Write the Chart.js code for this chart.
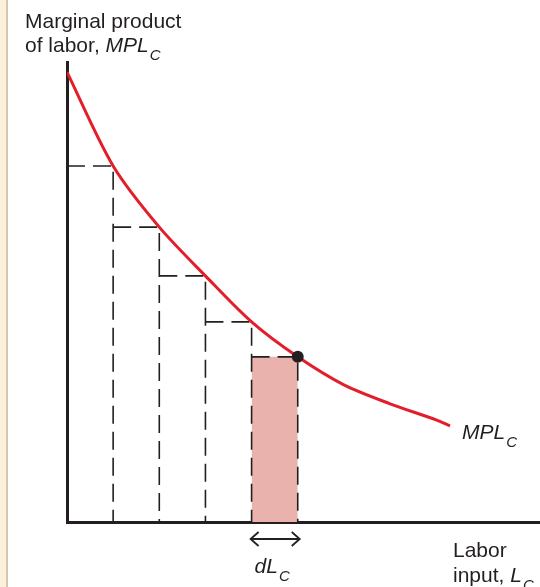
<!DOCTYPE html>
<html>
<head>
<meta charset="utf-8">
<script src="https://cdn.jsdelivr.net/npm/chart.js@4/dist/chart.umd.min.js"></script>
<style>
    body {
        margin: 0;
        background: #fff;
    }
    .page {
        width: 540px;
        height: 587px;
        position: relative;
        background: linear-gradient(to right, #fdf0da 0, #fdf0da 6px, #d6c6ab 6px, #d6c6ab 8px, #fff 8px);
    }
    canvas {
        position: absolute;
        left: 0;
        top: 0;
    }
</style>
</head>
<body>
<div class="page">
    <canvas id="mpl-chart" width="540" height="587"></canvas>
</div>
<script>
// labor input (units of dL) and marginal product
const curveLabor = [0, 1, 2, 3, 4, 5, 6, 7, 8, 8.3];
const curveMPL = [9.78, 7.74, 6.41, 5.35, 4.35, 3.59, 2.98, 2.57, 2.22, 2.09];

// steps under the curve, one per unit of labor
const stepEnds = [1, 2, 3, 4, 5];
// highlighted slice dL
const sliceStart = 4;
const sliceEnd = 5;

const xMax = 10.25;
const yMax = 10;

const ink = '#231f20';
const red = '#e31e2a';
const font = '"Liberation Sans", Arial, sans-serif';

function mplAt(l) {
    return curveMPL[curveLabor.indexOf(l)];
}

const curveData = curveLabor.map((l, i) => ({ x: l, y: curveMPL[i] }));

const dashData = [];
stepEnds.forEach(end => {
    const h = mplAt(end);
    dashData.push({ x: end - 1, y: h }, { x: end, y: h }, { x: end, y: 0 }, { x: end, y: null });
});

const sliceData = [
    { x: sliceStart, y: mplAt(sliceEnd) },
    { x: sliceEnd, y: mplAt(sliceEnd) }
];

function drawSubText(ctx, x, y, main, sub, style) {
    ctx.font = style + ' 21px ' + font;
    ctx.fillText(main, x, y);
    const w = ctx.measureText(main).width;
    ctx.font = style + ' 15px ' + font;
    ctx.fillText(sub, x + w + 1, y + 8);
}

const labelsPlugin = {
    id: 'labels',
    afterDraw(chart) {
        const ctx = chart.ctx;
        const xs = chart.scales.x;
        const top = chart.chartArea.bottom;
        ctx.save();
        ctx.fillStyle = ink;
        ctx.textBaseline = 'alphabetic';
        ctx.textAlign = 'left';

        // y axis title
        ctx.font = '21px ' + font;
        ctx.fillText('Marginal product', 25, 28);
        ctx.fillText('of labor, ', 25, 52);
        const w = ctx.measureText('of labor, ').width;
        drawSubText(ctx, 25 + w, 52, 'MPL', 'C', 'italic');

        // curve label
        drawSubText(ctx, 462, 439, 'MPL', 'C', 'italic');

        // x axis title
        ctx.font = '21px ' + font;
        ctx.fillText('Labor', 453, 557);
        ctx.fillText('input, ', 453, 582);
        const w2 = ctx.measureText('input, ').width;
        drawSubText(ctx, 453 + w2, 582, 'L', 'C', 'italic');

        // double arrow for dL
        const x1 = xs.getPixelForValue(sliceStart) - 1;
        const x2 = xs.getPixelForValue(sliceEnd) + 2;
        const ay = top + 17;
        ctx.strokeStyle = ink;
        ctx.lineWidth = 1.8;
        ctx.beginPath();
        ctx.moveTo(x1, ay);
        ctx.lineTo(x2, ay);
        ctx.moveTo(x1 + 8, ay - 7);
        ctx.lineTo(x1, ay);
        ctx.lineTo(x1 + 8, ay + 7);
        ctx.moveTo(x2 - 8, ay - 7);
        ctx.lineTo(x2, ay);
        ctx.lineTo(x2 - 8, ay + 7);
        ctx.stroke();

        drawSubText(ctx, x1 + 4, top + 51, 'dL', 'C', 'italic');
        ctx.restore();
    }
};

const ctx = document.getElementById('mpl-chart').getContext('2d');
new Chart(ctx, {
    type: 'scatter',
    data: {
        datasets: [
            {
                data: [{ x: sliceEnd, y: mplAt(sliceEnd) }],
                pointRadius: 6,
                pointBackgroundColor: ink,
                pointBorderWidth: 0,
                showLine: false
            },
            {
                data: curveData,
                showLine: true,
                borderColor: red,
                borderWidth: 3,
                pointRadius: 0,
                tension: 0.3
            },
            {
                data: dashData,
                showLine: true,
                spanGaps: false,
                borderColor: ink,
                borderWidth: 1.6,
                borderDash: [18, 8],
                pointRadius: 0
            },
            {
                data: sliceData,
                showLine: true,
                borderWidth: 0,
                pointRadius: 0,
                fill: 'origin',
                backgroundColor: '#e9b2ac'
            }
        ]
    },
    options: {
        responsive: false,
        animation: false,
        layout: {
            autoPadding: false,
            padding: { left: 67, top: 62, right: 0, bottom: 65 }
        },
        plugins: {
            legend: { display: false },
            tooltip: { enabled: false }
        },
        scales: {
            x: {
                type: 'linear',
                min: 0,
                max: xMax,
                grid: { display: false, drawTicks: false },
                ticks: { display: false },
                border: { display: true, color: ink, width: 3 }
            },
            y: {
                type: 'linear',
                min: 0,
                max: yMax,
                grid: { display: false, drawTicks: false },
                ticks: { display: false },
                border: { display: true, color: ink, width: 3 }
            }
        }
    },
    plugins: [labelsPlugin]
});
</script>
</body>
</html>
